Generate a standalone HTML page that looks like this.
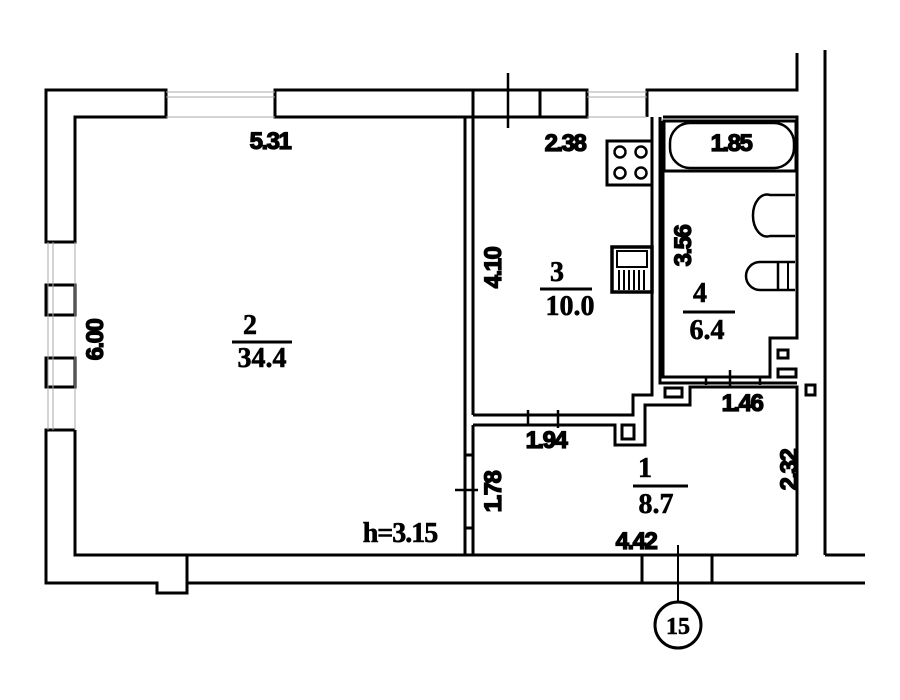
<!DOCTYPE html>
<html><head><meta charset="utf-8"><style>
html,body{margin:0;padding:0;background:#fff;}
svg{display:block}
text{font-family:"Liberation Sans",sans-serif;font-weight:bold;fill:#000;}
.d{font-size:24px;letter-spacing:-1.5px;stroke:#000;stroke-width:1.3px}
.n{font-family:"Liberation Serif",serif;font-size:28px;stroke:#000;stroke-width:0.6px}
</style></head><body>
<svg width="900" height="700" viewBox="0 0 900 700" xmlns="http://www.w3.org/2000/svg">
<g fill="none" stroke="#000" stroke-width="3" stroke-linejoin="miter">
<path d="M46 242 V90 H166 V117 H75 V242 Z"/>
<path d="M275 90 H473 V117 H275 Z"/>
<path d="M473 90 H587 V117 H473 Z"/>
<line x1="540" y1="90" x2="540" y2="117"/>
<path d="M647 117 V90 H797 V53"/>
<line x1="825" y1="50" x2="825" y2="555"/>
<line x1="825" y1="555" x2="865" y2="555"/>
<rect x="46" y="285" width="29" height="30"/>
<rect x="46" y="358" width="29" height="29"/>
<path d="M75 430 H46 V583 H157 V593 H187 V583 H865"/>
<path d="M75 430 V555 H797"/>
<line x1="187" y1="555" x2="187" y2="583"/>
<line x1="642" y1="555" x2="642" y2="583"/>
<line x1="712" y1="555" x2="712" y2="583"/>
<line x1="465" y1="117" x2="465" y2="555"/>
<line x1="473" y1="117" x2="473" y2="415"/>
<line x1="473" y1="425" x2="473" y2="555"/>
<line x1="465" y1="455" x2="473" y2="455"/>
<line x1="465" y1="528" x2="473" y2="528"/>
<path d="M587 117 V90"/>
<path d="M473 415 H633 V395 H652 V117"/>
<path d="M660 117 V383 H797"/>
<path d="M663 121 V377 H770 V338 H797 V117 H663"/>
<path d="M473 425 H615 V445 H645 V405 H690 V387 H797 V555"/>
<rect x="622" y="425" width="12" height="14"/>
<rect x="665" y="388" width="17" height="9"/>
<rect x="778" y="350" width="10" height="8"/>
<rect x="778" y="369" width="18" height="8"/>
<rect x="806" y="385" width="9" height="10"/>
<rect x="664" y="121" width="132" height="50" stroke-width="3"/>
<rect x="670" y="123" width="124" height="45" rx="20" stroke-width="2.5"/>
<rect x="607" y="141" width="45" height="44"/>
<circle cx="620" cy="152" r="5.5" stroke-width="2.5"/><circle cx="641" cy="152" r="5.5" stroke-width="2.5"/>
<circle cx="620" cy="173" r="5.5" stroke-width="2.5"/><circle cx="641" cy="173" r="5.5" stroke-width="2.5"/>
<rect x="612" y="247" width="40" height="45" stroke-width="3.5"/>
<rect x="617" y="251" width="30" height="16" stroke-width="2"/>
<g stroke-width="2"><line x1="619" y1="270" x2="619" y2="290"/><line x1="624" y1="270" x2="624" y2="290"/><line x1="629" y1="270" x2="629" y2="290"/><line x1="634" y1="270" x2="634" y2="290"/><line x1="639" y1="270" x2="639" y2="290"/><line x1="644" y1="270" x2="644" y2="290"/></g>
<path d="M795 195 H770 A14 21 0 1 0 770 236 H795" stroke-width="2.5"/>
<path d="M795 262 H760 A14 14 0 0 0 760 290 H795" stroke-width="2.5"/>
<line x1="778" y1="262" x2="778" y2="290" stroke-width="2.5"/>
<line x1="788" y1="262" x2="788" y2="290" stroke-width="2"/>
<line x1="508" y1="73" x2="508" y2="128" stroke-width="2.5"/>
<line x1="528" y1="410" x2="528" y2="425" stroke-width="2.5"/>
<line x1="558" y1="410" x2="558" y2="428" stroke-width="2.5"/>
<line x1="455" y1="490" x2="478" y2="490" stroke-width="2.5"/>
<line x1="730" y1="370" x2="730" y2="388" stroke-width="2.5"/>
<line x1="706" y1="376" x2="706" y2="385" stroke-width="2.5"/>
<line x1="760" y1="376" x2="760" y2="385" stroke-width="2.5"/>
<line x1="678" y1="545" x2="678" y2="603" stroke-width="2"/>
<circle cx="678" cy="625" r="23" stroke-width="3"/>
<line x1="232" y1="342" x2="292" y2="342"/>
<line x1="540" y1="289" x2="592" y2="289"/>
<line x1="683" y1="312" x2="735" y2="312"/>
<line x1="633" y1="486" x2="688" y2="486"/>
</g>
<g stroke="#aaa" stroke-width="1" fill="none">
<line x1="166" y1="92" x2="275" y2="92"/><line x1="166" y1="97" x2="275" y2="97"/><line x1="166" y1="117" x2="275" y2="117"/>
<line x1="587" y1="92" x2="647" y2="92"/><line x1="587" y1="97" x2="647" y2="97"/><line x1="587" y1="117" x2="647" y2="117"/>
<line x1="48" y1="242" x2="48" y2="430"/><line x1="53" y1="242" x2="53" y2="430"/><line x1="75" y1="242" x2="75" y2="430"/>
</g>
<text class="d" x="270" y="149" text-anchor="middle">5.31</text>
<text class="d" x="565" y="151" text-anchor="middle">2.38</text>
<text class="d" x="731" y="151" text-anchor="middle">1.85</text>
<text class="d" x="742" y="411" text-anchor="middle">1.46</text>
<text class="d" x="546" y="448" text-anchor="middle">1.94</text>
<text class="d" x="636" y="549" text-anchor="middle">4.42</text>
<text class="d" transform="translate(103,340) rotate(-90)" text-anchor="middle">6.00</text>
<text class="d" transform="translate(501,268) rotate(-90)" text-anchor="middle">4.10</text>
<text class="d" transform="translate(691,246) rotate(-90)" text-anchor="middle">3.56</text>
<text class="d" transform="translate(501,492) rotate(-90)" text-anchor="middle">1.78</text>
<text class="d" transform="translate(797,470) rotate(-90)" text-anchor="middle">2.32</text>
<text class="n" x="250" y="334" text-anchor="middle">2</text>
<text class="n" x="262" y="367" text-anchor="middle">34.4</text>
<text class="n" x="557" y="281" text-anchor="middle">3</text>
<text class="n" x="570" y="315" text-anchor="middle">10.0</text>
<text class="n" x="700" y="302" text-anchor="middle">4</text>
<text class="n" x="707" y="339" text-anchor="middle">6.4</text>
<text class="n" x="645" y="477" text-anchor="middle">1</text>
<text class="n" x="656" y="513" text-anchor="middle">8.7</text>
<text class="n" x="400" y="542" text-anchor="middle" style="letter-spacing:-1px">h=3.15</text>
<text class="n" x="678" y="634" text-anchor="middle" style="font-size:24px">15</text>
</svg>
</body></html>
